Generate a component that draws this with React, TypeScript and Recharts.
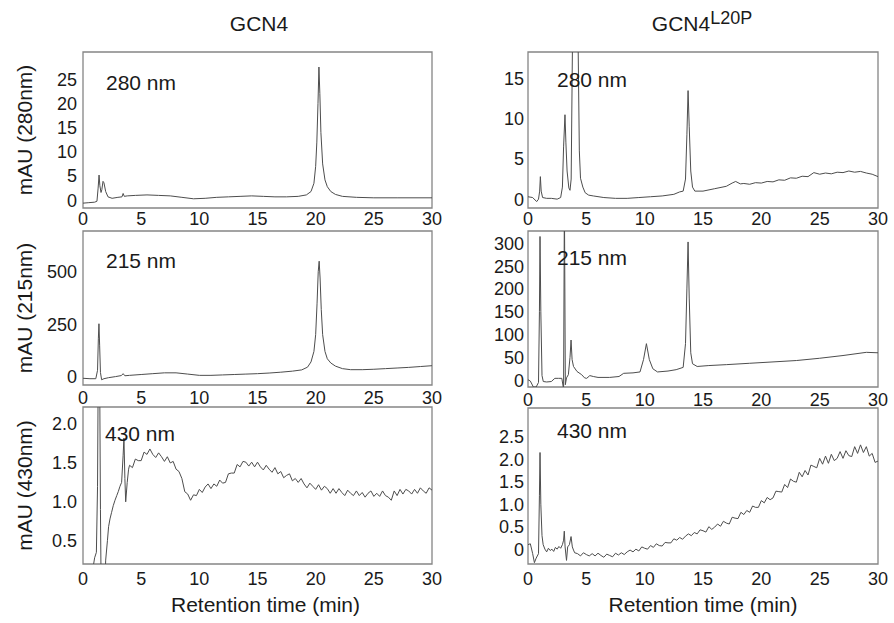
import { Line, LineChart, ReferenceArea, XAxis, YAxis } from "recharts";

type Pair = [number, number];

const timeTicks = [0, 5, 10, 15, 20, 25, 30];

// GCN4, 280 nm
const gcn4A280: Pair[] = [
  [0, -0.6], [0.5, -0.5], [1.0, -0.4], [1.2, -0.2], [1.3, 2.5], [1.38, 5.2], [1.45, 3.0], [1.55, 1.6],
  [1.62, 2.2], [1.72, 3.9], [1.8, 3.6], [1.95, 1.8], [2.15, 0.7], [2.5, 0.4], [3.0, 0.6], [3.35, 0.7],
  [3.45, 1.4], [3.55, 0.8], [3.8, 0.9], [4.5, 1.0], [5.5, 1.1], [6.5, 1.0], [7.5, 0.9], [8.5, 0.6],
  [9.5, 0.3], [10.5, 0.4], [11.5, 0.6], [12.5, 0.7], [13.5, 0.8], [14.5, 0.9], [15.5, 0.8], [16.5, 0.7],
  [17.5, 0.7], [18.5, 0.8], [19.2, 1.1], [19.6, 1.8], [19.85, 3.5], [20.0, 7], [20.1, 12], [20.2, 20],
  [20.28, 27.5], [20.36, 22], [20.45, 14], [20.6, 7.5], [20.8, 4.2], [21.0, 2.8], [21.3, 1.8], [21.7, 1.2],
  [22.3, 0.8], [23.5, 0.6], [25, 0.5], [27, 0.5], [30, 0.5],
];

// GCN4, 215 nm
const gcn4A215: Pair[] = [
  [0, -8], [0.6, -10], [1.1, -10], [1.25, 30], [1.32, 180], [1.37, 252], [1.43, 150], [1.5, 20],
  [1.6, -15], [1.8, -10], [2.2, -5], [2.8, 0], [3.3, 5], [3.45, 14], [3.6, 4], [4.0, 6], [5.0, 10],
  [6.0, 14], [7.0, 18], [8.0, 18], [9.0, 12], [10.0, 6], [11.0, 6], [12.0, 8], [13.0, 10], [14.0, 12],
  [15.0, 14], [16.0, 17], [17.0, 21], [18.0, 26], [18.8, 32], [19.3, 45], [19.6, 70], [19.85, 120],
  [20.0, 200], [20.12, 350], [20.22, 500], [20.3, 550], [20.38, 470], [20.48, 320], [20.6, 200],
  [20.8, 120], [21.0, 85], [21.3, 65], [21.7, 50], [22.3, 38], [23.0, 33], [24.0, 33], [25.0, 35],
  [26.0, 38], [27.0, 41], [28.0, 44], [29.0, 48], [30, 52],
];

// GCN4, 430 nm
const gcn4A430: Pair[] = [
  [0, -0.3], [0.6, -0.1], [0.86, 0.15], [1.0, 0.28], [1.15, 0.35], [1.25, 1.2], [1.32, 3.0], [1.42, 3.0],
  [1.5, 0.9], [1.58, -0.5], [1.85, -0.2], [1.95, 0.25], [2.1, 0.5], [2.2, 0.68], [2.32, 0.78], [2.45, 0.86],
  [2.6, 0.95], [2.75, 1.02], [2.9, 1.08], [3.03, 1.13], [3.18, 1.2], [3.32, 1.25], [3.45, 1.6], [3.52, 1.82],
  [3.6, 1.3], [3.67, 1.0], [3.8, 1.25], [3.92, 1.42],
  [4.0, 1.47], [4.25, 1.44], [4.5, 1.55], [4.75, 1.53], [5.0, 1.53], [5.25, 1.64], [5.5, 1.61], [5.75, 1.68],
  [6.0, 1.61], [6.25, 1.57], [6.5, 1.63], [6.75, 1.58], [7.0, 1.52], [7.25, 1.58], [7.5, 1.5], [7.75, 1.52],
  [8.0, 1.42], [8.25, 1.39], [8.5, 1.3], [8.75, 1.13], [9.0, 1.1], [9.25, 1.02], [9.5, 1.09], [9.75, 1.08],
  [10.0, 1.16], [10.25, 1.12], [10.5, 1.19], [10.75, 1.23], [11.0, 1.17], [11.25, 1.23], [11.5, 1.2], [11.75, 1.28],
  [12.0, 1.24], [12.25, 1.25], [12.5, 1.36], [12.75, 1.37], [13.0, 1.37], [13.25, 1.48], [13.5, 1.45], [13.75, 1.52],
  [14.0, 1.51], [14.25, 1.46], [14.5, 1.51], [14.75, 1.45], [15.0, 1.51], [15.25, 1.45], [15.5, 1.41], [15.75, 1.47],
  [16.0, 1.42], [16.25, 1.38], [16.5, 1.44], [16.75, 1.36], [17.0, 1.39], [17.25, 1.31], [17.5, 1.34], [17.75, 1.36],
  [18.0, 1.27], [18.25, 1.3], [18.5, 1.25], [18.75, 1.3], [19.0, 1.23], [19.25, 1.18], [19.5, 1.24], [19.75, 1.2],
  [20.0, 1.16], [20.25, 1.22], [20.5, 1.15], [20.75, 1.2], [21.0, 1.17], [21.25, 1.11], [21.5, 1.17], [21.75, 1.11],
  [22.0, 1.17], [22.25, 1.12], [22.5, 1.08], [22.75, 1.15], [23.0, 1.11], [23.25, 1.08], [23.5, 1.14], [23.75, 1.08],
  [24.0, 1.12], [24.25, 1.06], [24.5, 1.11], [24.75, 1.14], [25.0, 1.07], [25.25, 1.11], [25.5, 1.07], [25.75, 1.14],
  [26.0, 1.08], [26.25, 1.06], [26.5, 1.02], [26.75, 1.14], [27.0, 1.08], [27.25, 1.16], [27.5, 1.1], [27.75, 1.16],
  [28.0, 1.14], [28.25, 1.1], [28.5, 1.16], [28.75, 1.11], [29.0, 1.18], [29.25, 1.14], [29.5, 1.11], [29.75, 1.18],
  [30.0, 1.15],
];

// GCN4 L20P, 280 nm
const l20pA280: Pair[] = [
  [0, 0.3], [0.4, 0.2], [0.6, -0.1], [0.75, -0.3], [0.9, 0.0], [1.0, 1.0], [1.06, 2.8], [1.13, 1.0],
  [1.25, 0.2], [1.6, 0.1], [2.0, 0.1], [2.5, 0.0], [2.8, 0.2], [2.95, 1.5], [3.05, 6.5], [3.17, 10.5],
  [3.25, 7.0], [3.35, 3.5], [3.5, 1.4], [3.6, 1.1], [3.7, 2.5], [3.85, 25], [4.05, 60], [4.25, 25],
  [4.4, 6], [4.5, 2.6], [4.7, 1.5], [4.9, 0.8], [5.2, 0.5], [5.6, 0.4], [6.5, 0.2], [7.5, 0.1],
  [8.5, 0.1], [9.5, 0.2], [10.5, 0.3], [11.5, 0.4], [12.5, 0.6], [13.0, 0.9], [13.3, 1.0], [13.5, 2.5],
  [13.62, 8], [13.72, 13.5], [13.82, 9], [13.95, 3.5], [14.1, 1.5], [14.3, 1.0], [15.0, 1.0], [16.0, 1.3],
  [17.0, 1.6], [17.5, 2.0], [17.8, 2.2], [18.2, 1.9], [18.5, 1.95], [19.0, 1.85], [19.5, 2.05], [20.0, 2.0],
  [20.5, 2.2], [21.0, 2.15], [21.5, 2.4], [22.0, 2.35], [22.5, 2.65], [23.0, 2.6], [23.5, 2.85], [24.0, 2.8],
  [24.5, 3.3], [25.0, 3.1], [25.5, 3.25], [26.0, 3.15], [26.5, 3.35], [27.0, 3.3], [27.5, 3.5], [28.0, 3.35],
  [28.5, 3.45], [29.0, 3.25], [29.5, 3.1], [30.0, 2.8],
];

// GCN4 L20P, 215 nm
const l20pA215: Pair[] = [
  [0, 1], [0.2, -2], [0.46, -15], [0.7, -15], [0.9, -5], [0.98, 150], [1.03, 315], [1.1, 150],
  [1.2, 10], [1.31, -3], [1.6, -4], [2.0, -3], [2.3, 4], [2.6, 4], [2.9, 4], [3.05, -20], [3.12, 400],
  [3.2, -10], [3.3, 5], [3.46, 12], [3.6, 50], [3.69, 88], [3.78, 45], [3.9, 30], [4.2, 19], [4.6, 12],
  [4.85, 5], [5.03, 4], [5.3, 10], [5.6, 8], [6.0, 6], [7.0, 6], [7.8, 8], [8.2, 15], [9.0, 16], [9.6, 18],
  [9.9, 45], [10.15, 80], [10.4, 45], [10.7, 25], [11.1, 18], [12.0, 20], [12.7, 23], [13.3, 28],
  [13.5, 80], [13.62, 200], [13.72, 303], [13.82, 180], [13.95, 60], [14.1, 36], [14.5, 30], [15.5, 32],
  [17.0, 34], [19.0, 37], [21.0, 40], [23.0, 43], [25.0, 48], [27.0, 54], [29.0, 61], [30.0, 60],
];

// GCN4 L20P, 430 nm
const l20pA430: Pair[] = [
  [0, 0.1], [0.2, 0.12], [0.4, -0.1], [0.55, -0.3], [0.7, -0.2], [0.9, -0.1], [0.98, 1.2], [1.03, 2.15],
  [1.1, 1.0], [1.2, 0.3], [1.3, 0.1], [1.45, 0.0], [1.6, -0.06], [1.75, 0.02], [1.9, -0.03], [2.05, 0.0],
  [2.2, -0.05], [2.35, 0.04], [2.5, 0.0], [2.65, 0.06], [2.8, 0.02], [2.95, 0.1], [3.05, 0.2], [3.11, 0.4],
  [3.18, 0.05], [3.3, -0.25], [3.4, 0.05], [3.55, 0.1], [3.69, 0.28], [3.8, 0.05], [3.9, -0.02], [4.0, -0.08],
  [4.25, -0.1], [4.5, -0.15], [4.75, -0.08], [5.0, -0.12], [5.25, -0.15], [5.5, -0.1], [5.75, -0.15], [6.0, -0.09],
  [6.25, -0.14], [6.5, -0.18], [6.75, -0.11], [7.0, -0.14], [7.25, -0.17], [7.5, -0.09], [7.75, -0.13], [8.0, -0.08],
  [8.25, -0.12], [8.5, -0.06], [8.75, -0.02], [9.0, -0.06], [9.25, 0.0], [9.5, -0.04], [9.75, 0.05], [10.0, 0.02],
  [10.25, 0.0], [10.5, 0.08], [10.75, 0.04], [11.0, 0.12], [11.25, 0.08], [11.5, 0.07], [11.75, 0.15], [12.0, 0.14],
  [12.25, 0.14], [12.5, 0.23], [12.75, 0.2], [13.0, 0.26], [13.25, 0.22], [13.5, 0.29], [13.75, 0.34], [14.0, 0.3],
  [14.25, 0.37], [14.5, 0.34], [14.75, 0.43], [15.0, 0.41], [15.25, 0.38], [15.5, 0.5], [15.75, 0.44], [16.0, 0.49],
  [16.25, 0.56], [16.5, 0.51], [16.75, 0.62], [17.0, 0.58], [17.25, 0.56], [17.5, 0.71], [17.75, 0.69], [18.0, 0.68],
  [18.25, 0.82], [18.5, 0.77], [18.75, 0.86], [19.0, 0.82], [19.25, 0.96], [19.5, 0.93], [19.75, 0.93], [20.0, 1.08],
  [20.25, 1.03], [20.5, 1.15], [20.75, 1.1], [21.0, 1.14], [21.25, 1.29], [21.5, 1.28], [21.75, 1.27], [22.0, 1.44],
  [22.25, 1.37], [22.5, 1.56], [22.75, 1.51], [23.0, 1.49], [23.25, 1.71], [23.5, 1.61], [23.75, 1.75], [24.0, 1.65],
  [24.25, 1.87], [24.5, 1.84], [24.75, 1.81], [25.0, 2.02], [25.25, 1.89], [25.5, 2.07], [25.75, 1.91], [26.0, 2.11],
  [26.25, 1.97], [26.5, 2.02], [26.75, 2.17], [27.0, 2.02], [27.25, 2.19], [27.5, 2.08], [27.75, 2.06], [28.0, 2.28],
  [28.25, 2.13], [28.5, 2.32], [28.75, 2.15], [29.0, 2.28], [29.25, 2.07], [29.5, 2.13], [29.75, 1.93], [30.0, 1.96],
];

const ticks280 = [0, 5, 10, 15, 20, 25];
const ticks215 = [0, 250, 500];
const ticks430 = [0.5, 1.0, 1.5, 2.0];
const ticksL280 = [0, 5, 10, 15];
const ticksL215 = [0, 50, 100, 150, 200, 250, 300];
const ticksL430 = [0, 0.5, 1.0, 1.5, 2.0, 2.5];

const FONT = '"Liberation Sans", Arial, Helvetica, sans-serif';
const INK = "#1a1a1a";

const oneDecimal = (v: number) => (v === 0 ? "0" : v.toFixed(1));

type PanelProps = {
  trace: Pair[];
  domain: [number, number];
  ticks: number[];
  tickFormatter?: (v: number) => string;
  x: number; // plot left on the page
  y: number; // plot top on the page
  w: number;
  h: number;
  axisWidth: number;
  yTickGap: number;
  xTickGap: number;
  yTitle?: string;
  xTitle?: string;
  xTitleDx?: number;
  tag: string;
  tagX: number;
  tagY: number;
};

function Panel(p: PanelProps) {
  const data = p.trace.map(([t, v]) => ({ t, v }));
  const xAxisHeight = p.xTitle ? 58 : 26;
  return (
    <>
      <div style={{ position: "absolute", left: p.x - p.axisWidth, top: p.y - 2 }}>
        <LineChart
          width={p.axisWidth + p.w + 16}
          height={p.h + 2 + xAxisHeight}
          data={data}
          margin={{ top: 2, right: 16, bottom: 0, left: 0 }}
        >
          <XAxis
            type="number"
            dataKey="t"
            domain={[0, 30]}
            ticks={timeTicks}
            interval={0}
            allowDataOverflow
            axisLine={false}
            tickLine={false}
            tickSize={0}
            tickMargin={p.xTickGap}
            height={xAxisHeight}
            tick={{ fill: INK, fontSize: 18 }}
            label={
              p.xTitle
                ? { value: p.xTitle, position: "insideBottom", offset: 10, fontSize: 21, fill: INK, dx: p.xTitleDx ?? 0 }
                : undefined
            }
          />
          <YAxis
            type="number"
            domain={p.domain}
            ticks={p.ticks}
            interval={0}
            allowDataOverflow
            axisLine={false}
            tickLine={false}
            tickSize={0}
            tickMargin={p.yTickGap}
            width={p.axisWidth}
            tickFormatter={p.tickFormatter}
            tick={{ fill: INK, fontSize: 18 }}
            label={
              p.yTitle
                ? {
                    value: p.yTitle,
                    angle: -90,
                    position: "insideLeft",
                    offset: 25,
                    fontSize: 21,
                    fill: INK,
                    style: { textAnchor: "middle" },
                  }
                : undefined
            }
          />
          <ReferenceArea x1={0} x2={30} y1={p.domain[0]} y2={p.domain[1]} fill="none" stroke="#858585" strokeWidth={1.3} />
          <Line type="linear" dataKey="v" stroke="#4d4d4d" strokeWidth={1} dot={false} isAnimationActive={false} />
        </LineChart>
      </div>
      <div style={{ position: "absolute", left: p.tagX, top: p.tagY, fontSize: 21, lineHeight: 1, color: INK }}>
        {p.tag}
      </div>
    </>
  );
}

export default function App() {
  return (
    <div style={{ position: "absolute", left: 0, top: 0, width: 894, height: 623, background: "#fff", fontFamily: FONT, color: INK }}>
      <div style={{ position: "absolute", left: 199, top: 13, width: 120, textAlign: "center", fontSize: 21, lineHeight: 1 }}>
        GCN4
      </div>
      <div style={{ position: "absolute", left: 642, top: 13, width: 120, textAlign: "center", fontSize: 21, lineHeight: 1, whiteSpace: "nowrap" }}>
        GCN4<span style={{ fontSize: 18, position: "relative", top: -7 }}>L20P</span>
      </div>

      <Panel trace={gcn4A280} domain={[-1.6, 30.6]} ticks={ticks280} x={83} y={52} w={349} h={156}
        axisWidth={83} yTickGap={6} xTickGap={4} yTitle="mAU (280nm)" tag="280 nm" tagX={106} tagY={72} />
      <Panel trace={gcn4A215} domain={[-40, 694]} ticks={ticks215} x={83} y={231} w={349} h={154}
        axisWidth={83} yTickGap={6} xTickGap={6} yTitle="mAU (215nm)" tag="215 nm" tagX={106} tagY={250} />
      <Panel trace={gcn4A430} domain={[0.2, 2.22]} ticks={ticks430} tickFormatter={oneDecimal} x={83} y={407} w={349} h={157}
        axisWidth={83} yTickGap={6} xTickGap={8} yTitle="mAU (430nm)" xTitle="Retention time (min)" xTitleDx={8}
        tag="430 nm" tagX={105} tagY={423} />

      <Panel trace={l20pA280} domain={[-1.1, 18.3]} ticks={ticksL280} x={528} y={52} w={350} h={156}
        axisWidth={60} yTickGap={4} xTickGap={4} tag="280 nm" tagX={557} tagY={69} />
      <Panel trace={l20pA215} domain={[-15, 327]} ticks={ticksL215} x={528} y={231} w={350} h={156}
        axisWidth={60} yTickGap={4} xTickGap={6} tag="215 nm" tagX={557} tagY={247} />
      <Panel trace={l20pA430} domain={[-0.33, 3.14]} ticks={ticksL430} tickFormatter={oneDecimal} x={528} y={408} w={350} h={156}
        axisWidth={60} yTickGap={4} xTickGap={8} xTitle="Retention time (min)" tag="430 nm" tagX={557} tagY={420} />
    </div>
  );
}
